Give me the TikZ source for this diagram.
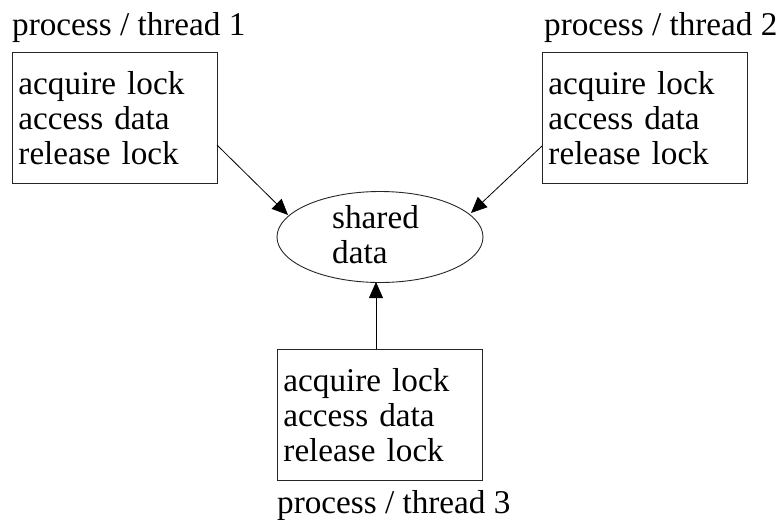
\documentclass[tikz,border=0pt]{standalone}
\usepackage{fontspec}
\setmainfont{Liberation Serif}
\usetikzlibrary{arrows.meta,shapes.geometric}
\tikzset{
  txt/.style={font=\fontsize{33.2}{35}\selectfont},
  taskbox/.style={txt, draw=black!85, line width=0.9pt, rectangle,
    minimum width=205pt, minimum height=131pt, text width=193pt,
    align=left, inner sep=6pt, anchor=north west},
  caption/.style={txt, inner sep=0pt, anchor=base west},
  store/.style={txt, draw=black!85, line width=0.9pt, ellipse,
    minimum width=206pt, minimum height=91pt, inner sep=0pt},
  link/.style={line width=0.8pt, -{Triangle[length=16pt,width=14pt]}}
}
\begin{document}
\begin{tikzpicture}[x=1pt,y=-1pt]
  \useasboundingbox (0,0) rectangle (780,520);

  % the three workers
  \node[taskbox] (t1) at (12,52) {acquire lock\\access data\\release lock};
  \node[taskbox] (t2) at (542,52) {acquire lock\\access data\\release lock};
  \node[taskbox] (t3) at (277,349) {acquire lock\\access data\\release lock};

  \node[caption] (c1) at (12,35) {process / thread 1};
  \node[caption] (c2) at (544,35) {process / thread 2};
  \node[caption] (c3) at (277,513) {process / thread 3};

  % the shared resource
  \node[store] (sd) at (380,237) {};
  \node[txt, inner sep=0pt, anchor=base west, align=left] (sdt) at (332,263) {shared\\data};

  % accesses
  \coordinate (s1) at (217,145);
  \coordinate (s2) at (542,146);
  \coordinate (s3) at (376,349);
  \draw[link] (s1) -- (288,215) coordinate (e1);
  \draw[link] (s2) -- (471,213) coordinate (e2);
  \draw[link] (s3) -- (376,282) coordinate (e3);
\end{tikzpicture}
\end{document}
